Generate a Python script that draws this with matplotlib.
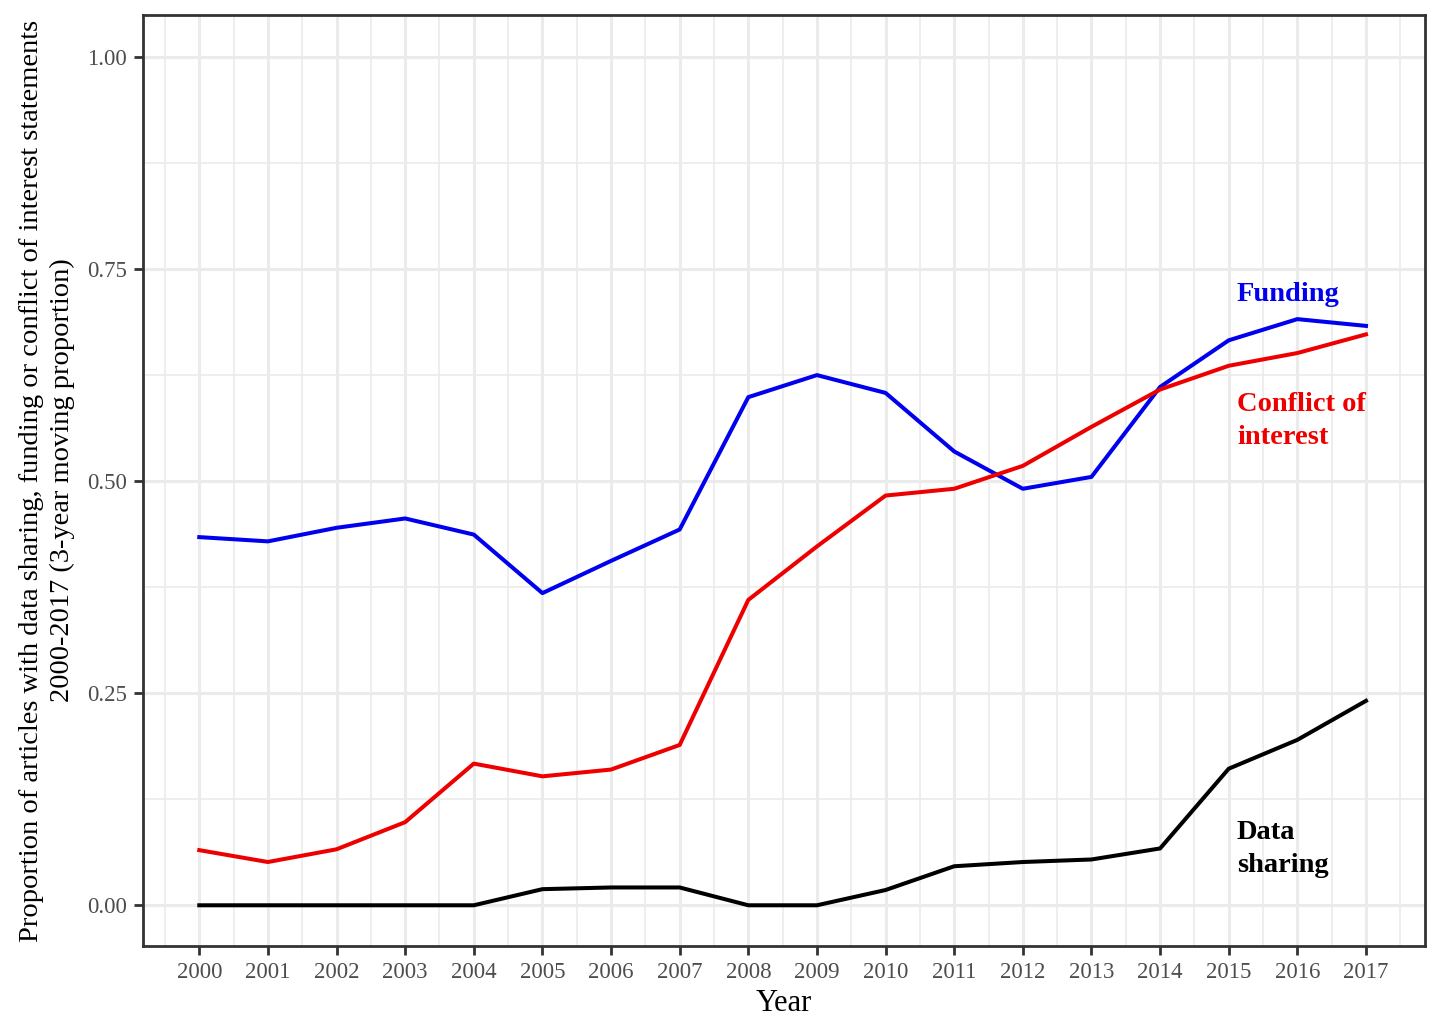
import numpy as np
import matplotlib
matplotlib.use('Agg')
import matplotlib.pyplot as plt

plt.rcParams['font.family'] = ['Liberation Serif', 'DejaVu Serif']

# data
years = list(range(2000, 2018))
funding = [0.434, 0.429, 0.445, 0.456, 0.437, 0.368, 0.406, 0.443, 0.599, 0.625,
           0.604, 0.535, 0.491, 0.505, 0.611, 0.666, 0.691, 0.683]
conflict = [0.065, 0.051, 0.066, 0.098, 0.167, 0.152, 0.160, 0.189, 0.360, 0.423,
            0.483, 0.491, 0.518, 0.564, 0.608, 0.636, 0.651, 0.673]
data_sharing = [0.0, 0.0, 0.0, 0.0, 0.0, 0.019, 0.021, 0.021, 0.0, 0.0,
                0.018, 0.046, 0.051, 0.054, 0.067, 0.161, 0.195, 0.241]
y_ticks = [0.0, 0.25, 0.5, 0.75, 1.0]

fig = plt.figure(figsize=(14.4, 10.28), dpi=100)
ax = fig.add_axes([143/1440, 1 - 946/1028, (1425-143)/1440, (946-15)/1028])

ax.plot(years, funding, color='#0000EE', lw=2.9)
ax.plot(years, conflict, color='#EE0000', lw=2.9)
ax.plot(years, data_sharing, color='black', lw=2.9)

lab_x = 2015.12
ax.text(lab_x, 0.72, 'Funding', color='#0000EE', fontsize=20.5, fontweight='bold', va='center')
ax.text(lab_x, 0.571, 'Conflict of\ninterest', color='#EE0000', fontsize=20.5,
        fontweight='bold', va='center', linespacing=1.4)
ax.text(lab_x, 0.066, 'Data\nsharing', color='black', fontsize=20.5,
        fontweight='bold', va='center', linespacing=1.4)

ax.set_xlim(2000 - 0.82, 2017 + 0.86)
ax.set_ylim(-0.048, 1.0495)
ax.set_xticks(years)
ax.set_xticks(np.arange(1999.5, 2018, 1), minor=True)
ax.set_yticks(y_ticks)
ax.set_yticklabels(['%.2f' % v for v in y_ticks])
ax.set_yticks(np.arange(0.125, 1.0, 0.25), minor=True)

ax.grid(True, which='major', color='#EBEBEB', lw=2.2)
ax.grid(True, which='minor', color='#EBEBEB', lw=1.2)
ax.set_axisbelow(True)
ax.tick_params(which='major', length=6.5, width=2.0, color='#333333',
               labelsize=16.5, labelcolor='#4D4D4D', pad=5)
ax.tick_params(which='minor', length=0)
for s in ax.spines.values():
    s.set_color('#333333')
    s.set_linewidth(2.0)

ax.set_xlabel('Year', fontsize=22, labelpad=4)
ax.set_ylabel('Proportion of articles with data sharing, funding or conflict of interest statements\n2000-2017 (3-year moving proportion)',
              fontsize=20.5, labelpad=9, linespacing=1.3)

fig.savefig('out.png', dpi=100)
